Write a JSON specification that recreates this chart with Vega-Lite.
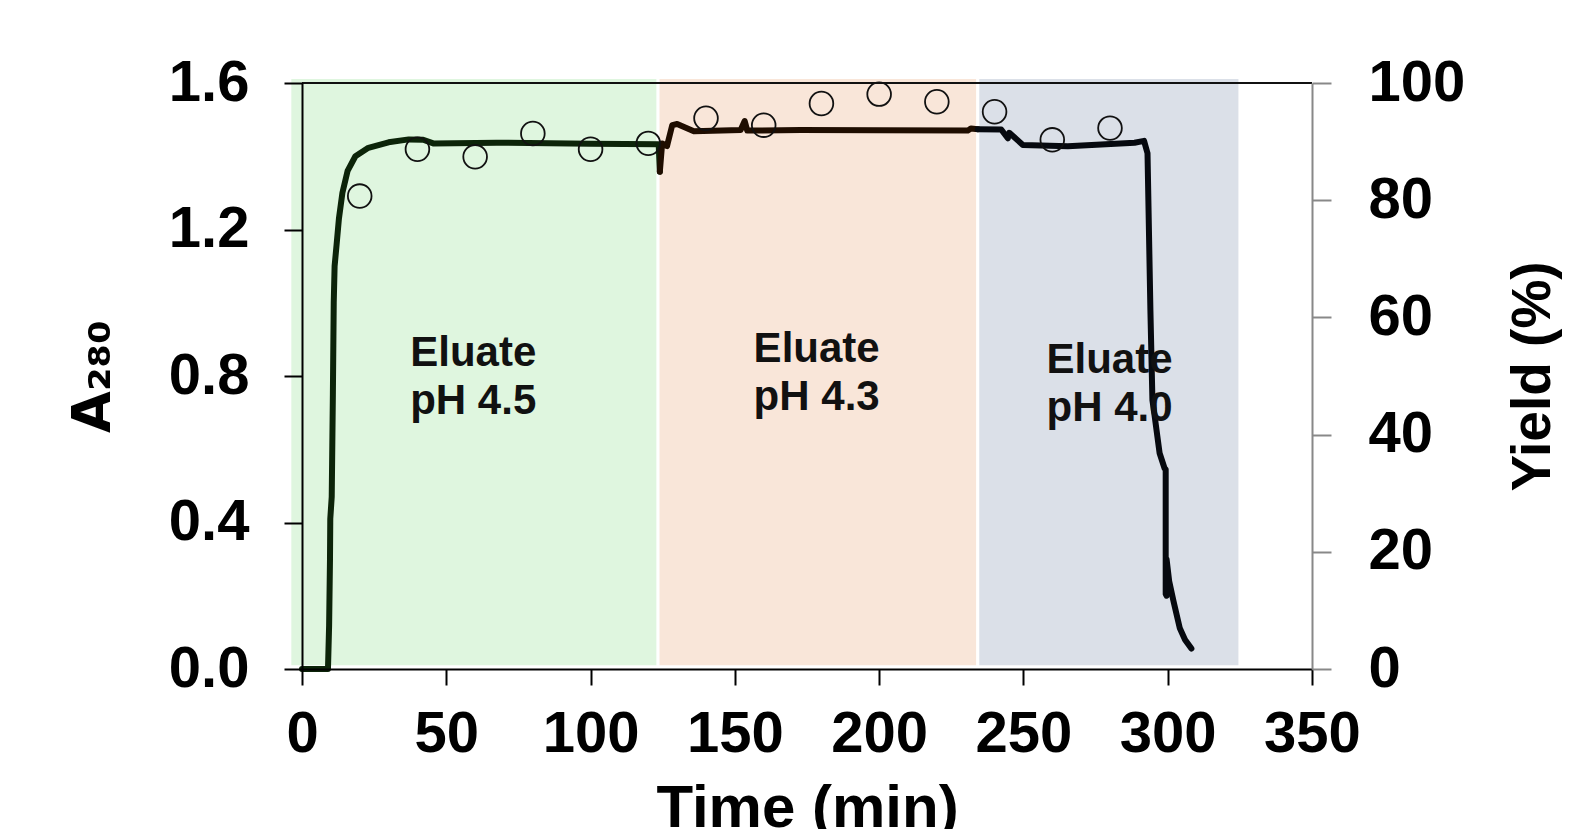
{
  "$schema": "https://vega.github.io/schema/vega-lite/v6.json",
  "width": 1010,
  "height": 586,
  "autosize": {"type": "none"},
  "padding": {"left": 302, "top": 83, "right": 270, "bottom": 160},
  "config": {
    "font": "Liberation Sans",
    "view": {"stroke": null},
    "axis": {"grid": false, "labelFlush": false, "labelOverlap": false, "labelFontWeight": "bold", "labelColor": "#000000", "titleFontWeight": "bold", "titleColor": "#000000", "domainWidth": 2, "tickWidth": 2},
    "axisBottom": {"domainColor": "#000000", "tickColor": "#000000", "tickSize": 16, "labelFontSize": 58, "labelPadding": 20, "titleFontSize": 60, "titlePadding": 16},
    "axisLeft": {"domainColor": "#000000", "tickColor": "#000000", "tickSize": 18, "labelFontSize": 58, "labelPadding": 35, "titleFontSize": 54, "titleFont": "DejaVu Sans", "titlePadding": 48},
    "axisRight": {"domainColor": "#888888", "tickColor": "#888888", "tickSize": 19, "labelFontSize": 58, "labelPadding": 37, "titleFontSize": 55, "titlePadding": 42}
  },
  "resolve": {"scale": {"y": "independent"}},
  "layer": [
    {
      "layer": [
        {
          "data": {"values": [
            {"start": -3.7, "end": 122.8, "phase": "4.5"},
            {"start": 123.9, "end": 233.6, "phase": "4.3"},
            {"start": 234.7, "end": 324.5, "phase": "4.0"}
          ]},
          "mark": {"type": "rect"},
          "encoding": {
            "x": {"field": "start", "type": "quantitative", "scale": {"domain": [0, 350], "nice": false, "zero": false},
              "axis": {"values": [0, 50, 100, 150, 200, 250, 300, 350], "title": "Time (min)", "zindex": 2}},
            "x2": {"field": "end"},
            "y": {"datum": 0.01, "type": "quantitative", "scale": {"domain": [0, 1.6], "nice": false},
              "axis": {"values": [0, 0.4, 0.8, 1.2, 1.6], "format": ".1f", "title": "A₂₈₀", "zindex": 2}},
            "y2": {"datum": 1.611},
            "fill": {"field": "phase", "type": "nominal", "scale": {"domain": ["4.5", "4.3", "4.0"], "range": ["#dff6df", "#f9e6d9", "#dbe0e8"]}, "legend": null}
          }
        },
        {
          "data": {"values": [{"from": 0, "to": 350}]},
          "mark": {"type": "rule", "color": "#111111", "strokeWidth": 2},
          "encoding": {
            "x": {"field": "from", "type": "quantitative", "scale": {"domain": [0, 350], "nice": false, "zero": false},
              "axis": {"values": [0, 50, 100, 150, 200, 250, 300, 350], "title": "Time (min)", "zindex": 2}},
            "x2": {"field": "to"},
            "y": {"datum": 1.6, "type": "quantitative", "scale": {"domain": [0, 1.6], "nice": false},
              "axis": {"values": [0, 0.4, 0.8, 1.2, 1.6], "format": ".1f", "title": "A₂₈₀", "zindex": 2}}
          }
        },
        {
          "data": {"values": [
            {"t": 0, "a": 0, "phase": "4.5"},
            {"t": 8.6, "a": 0, "phase": "4.5"},
            {"t": 9.0, "a": 0.0, "phase": "4.5"},
            {"t": 9.4, "a": 0.12, "phase": "4.5"},
            {"t": 9.7, "a": 0.3, "phase": "4.5"},
            {"t": 9.8, "a": 0.41, "phase": "4.5"},
            {"t": 10.3, "a": 0.47, "phase": "4.5"},
            {"t": 10.7, "a": 0.75, "phase": "4.5"},
            {"t": 11.0, "a": 1.0, "phase": "4.5"},
            {"t": 11.3, "a": 1.1, "phase": "4.5"},
            {"t": 12.0, "a": 1.16, "phase": "4.5"},
            {"t": 12.8, "a": 1.23, "phase": "4.5"},
            {"t": 14.0, "a": 1.3, "phase": "4.5"},
            {"t": 15.8, "a": 1.36, "phase": "4.5"},
            {"t": 18.5, "a": 1.4, "phase": "4.5"},
            {"t": 23.0, "a": 1.423, "phase": "4.5"},
            {"t": 30.0, "a": 1.438, "phase": "4.5"},
            {"t": 37.0, "a": 1.446, "phase": "4.5"},
            {"t": 42.0, "a": 1.445, "phase": "4.5"},
            {"t": 45.5, "a": 1.435, "phase": "4.5"},
            {"t": 67.5, "a": 1.437, "phase": "4.5"},
            {"t": 100.0, "a": 1.434, "phase": "4.5"},
            {"t": 123.6, "a": 1.433, "phase": "4.5"},
            {"t": 124.0, "a": 1.358, "phase": "4.5"},
            {"t": 124.0, "a": 1.358, "phase": "4.3"},
            {"t": 124.8, "a": 1.435, "phase": "4.3"},
            {"t": 126.5, "a": 1.428, "phase": "4.3"},
            {"t": 128.3, "a": 1.485, "phase": "4.3"},
            {"t": 130.0, "a": 1.488, "phase": "4.3"},
            {"t": 135.8, "a": 1.468, "phase": "4.3"},
            {"t": 152.0, "a": 1.472, "phase": "4.3"},
            {"t": 153.4, "a": 1.496, "phase": "4.3"},
            {"t": 154.3, "a": 1.47, "phase": "4.3"},
            {"t": 172.8, "a": 1.472, "phase": "4.3"},
            {"t": 200.0, "a": 1.471, "phase": "4.3"},
            {"t": 230.7, "a": 1.47, "phase": "4.3"},
            {"t": 231.8, "a": 1.476, "phase": "4.3"},
            {"t": 234.2, "a": 1.474, "phase": "4.3"},
            {"t": 234.2, "a": 1.474, "phase": "4.0"},
            {"t": 242.3, "a": 1.473, "phase": "4.0"},
            {"t": 244.6, "a": 1.449, "phase": "4.0"},
            {"t": 245.1, "a": 1.464, "phase": "4.0"},
            {"t": 249.8, "a": 1.431, "phase": "4.0"},
            {"t": 265.4, "a": 1.427, "phase": "4.0"},
            {"t": 288.5, "a": 1.437, "phase": "4.0"},
            {"t": 291.8, "a": 1.442, "phase": "4.0"},
            {"t": 293.0, "a": 1.408, "phase": "4.0"},
            {"t": 294.0, "a": 0.98, "phase": "4.0"},
            {"t": 294.7, "a": 0.734, "phase": "4.0"},
            {"t": 295.5, "a": 0.689, "phase": "4.0"},
            {"t": 297.2, "a": 0.589, "phase": "4.0"},
            {"t": 298.9, "a": 0.548, "phase": "4.0"},
            {"t": 299.3, "a": 0.545, "phase": "4.0"},
            {"t": 299.3, "a": 0.205, "phase": "4.0"},
            {"t": 299.6, "a": 0.2, "phase": "4.0"},
            {"t": 299.6, "a": 0.3, "phase": "4.0"},
            {"t": 300.5, "a": 0.24, "phase": "4.0"},
            {"t": 302.0, "a": 0.185, "phase": "4.0"},
            {"t": 304.2, "a": 0.111, "phase": "4.0"},
            {"t": 306.0, "a": 0.08, "phase": "4.0"},
            {"t": 308.2, "a": 0.056, "phase": "4.0"}
          ]},
          "mark": {"type": "line", "strokeWidth": 6, "strokeJoin": "round", "strokeCap": "round"},
          "encoding": {
            "x": {"field": "t", "type": "quantitative", "scale": {"domain": [0, 350], "nice": false, "zero": false},
              "axis": {"values": [0, 50, 100, 150, 200, 250, 300, 350], "title": "Time (min)", "zindex": 2}},
            "y": {"field": "a", "type": "quantitative", "scale": {"domain": [0, 1.6], "nice": false},
              "axis": {"values": [0, 0.4, 0.8, 1.2, 1.6], "format": ".1f", "title": "A₂₈₀", "zindex": 2}},
            "color": {"field": "phase", "type": "nominal", "scale": {"domain": ["4.5", "4.3", "4.0"], "range": ["#0c2409", "#1f0d00", "#06090f"]}, "legend": null}
          }
        },
        {
          "data": {"values": [
            {"t": 37.5, "a": 0.828, "label": "Eluate\npH 4.5"},
            {"t": 156.5, "a": 0.838, "label": "Eluate\npH 4.3"},
            {"t": 258.0, "a": 0.808, "label": "Eluate\npH 4.0"}
          ]},
          "mark": {"type": "text", "align": "left", "baseline": "alphabetic", "fontSize": 42, "fontWeight": "bold", "color": "#111111", "lineBreak": "\n", "lineHeight": 48},
          "encoding": {
            "x": {"field": "t", "type": "quantitative", "scale": {"domain": [0, 350], "nice": false, "zero": false},
              "axis": {"values": [0, 50, 100, 150, 200, 250, 300, 350], "title": "Time (min)", "zindex": 2}},
            "y": {"field": "a", "type": "quantitative", "scale": {"domain": [0, 1.6], "nice": false},
              "axis": {"values": [0, 0.4, 0.8, 1.2, 1.6], "format": ".1f", "title": "A₂₈₀", "zindex": 2}},
            "text": {"field": "label"}
          }
        }
      ]
    },
    {
      "data": {"values": [
        {"t": 20, "yield": 80.7},
        {"t": 40, "yield": 88.7},
        {"t": 60, "yield": 87.4},
        {"t": 80, "yield": 91.4},
        {"t": 100, "yield": 88.7},
        {"t": 120, "yield": 89.7},
        {"t": 140, "yield": 94.0},
        {"t": 160, "yield": 92.8},
        {"t": 180, "yield": 96.5},
        {"t": 200, "yield": 98.1},
        {"t": 220, "yield": 96.8},
        {"t": 240, "yield": 95.1},
        {"t": 260, "yield": 90.3},
        {"t": 280, "yield": 92.3}
      ]},
      "mark": {"type": "point", "shape": "circle", "filled": false, "stroke": "#111111", "strokeWidth": 1.8, "size": 560, "opacity": 1},
      "encoding": {
        "x": {"field": "t", "type": "quantitative", "scale": {"domain": [0, 350], "nice": false, "zero": false},
          "axis": {"values": [0, 50, 100, 150, 200, 250, 300, 350], "title": "Time (min)", "zindex": 2}},
        "y": {"field": "yield", "type": "quantitative", "scale": {"domain": [0, 100], "nice": false},
          "axis": {"orient": "right", "values": [0, 20, 40, 60, 80, 100], "title": "Yield (%)", "titleAngle": -90, "titleBaseline": "top", "zindex": 2}}
      }
    }
  ]
}
